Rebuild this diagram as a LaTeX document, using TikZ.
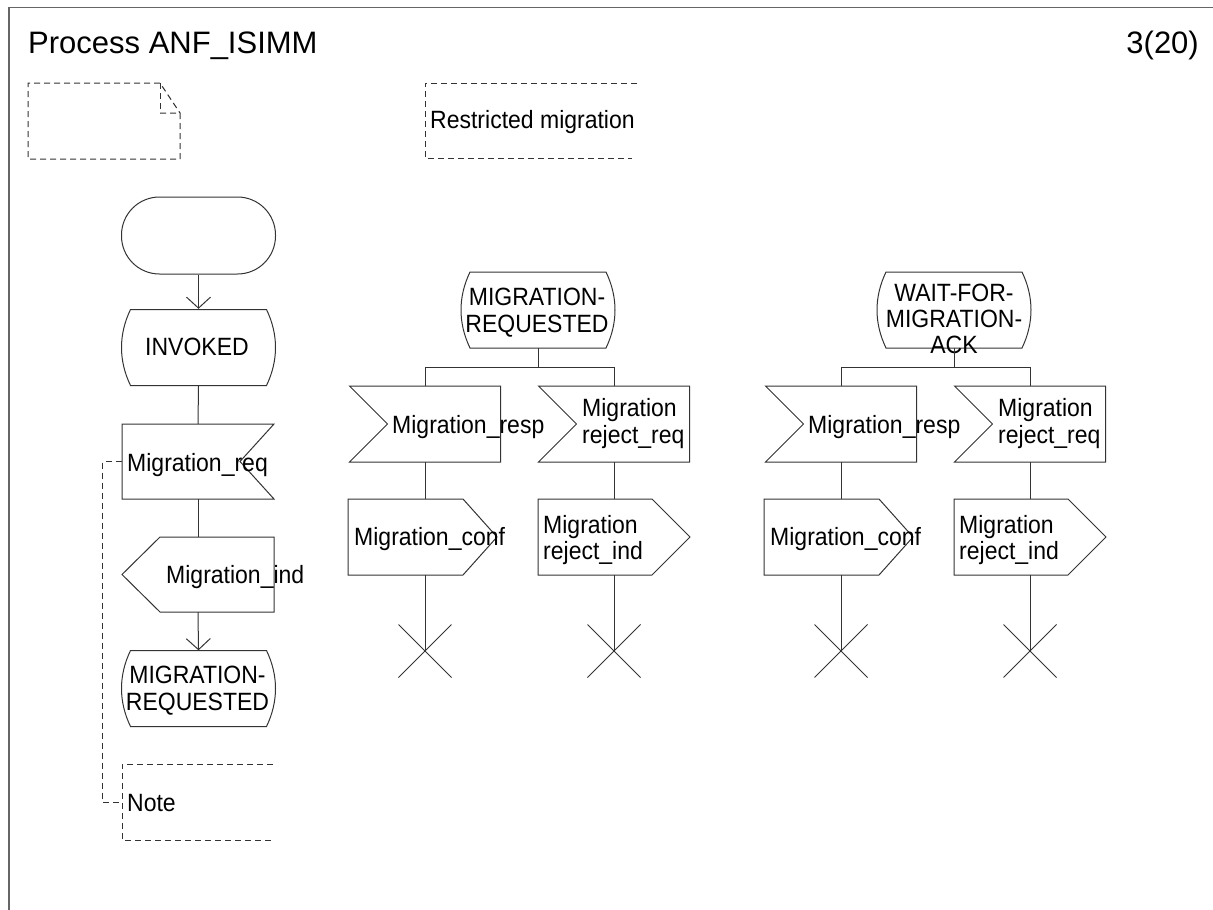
\documentclass[tikz,border=0pt]{standalone}
\usepackage{fontspec}
\setmainfont{Liberation Sans}
\newfontfamily\sdlfont{Liberation Sans}[FakeStretch=0.92]
\usetikzlibrary{shapes.misc,arrows.meta}
\tikzset{
  lin/.style={draw=black!80, line width=1pt},
  dsh/.style={draw=black!80, line width=1pt, dash pattern=on 6pt off 4pt},
  arr/.style={-{Straight Barb[length=11pt,width=24pt]}},
  bx/.style={draw=none, inner sep=0pt},
  txt/.style={inner sep=0pt, font=\sdlfont\fontsize{25}{26}\selectfont, text=black},
  big/.style={inner sep=0pt, font=\fontsize{31}{34}\selectfont, text=black},
  xterm/.style={lin, cross out, minimum size=52pt, inner sep=0pt}
}
\newcommand\sdlstateshape[2]{%
  \draw[lin,shift={(#1,#2)}] (-68,-38) -- (68,-38) .. controls (80,-13) and (80,13) .. (68,38)
    -- (-68,38) .. controls (-80,13) and (-80,-13) .. cycle;}
\begin{document}
\begin{tikzpicture}[x=1pt,y=-1pt]
\useasboundingbox (0,0) rectangle (1213,910);
% frame
\draw[black!60, line width=2pt] (9,910) -- (9,7.5);
\draw[black!60, line width=1.5pt] (8,7.5) -- (1213,7.5);
\node[big, anchor=base west] (title) at (28,53) {Process ANF\_ISIMM};
\node[big, anchor=base east] (page) at (1199,53) {3(20)};

% document symbol
\node (doc) [bx, minimum width=152pt, minimum height=76pt] at (104,121) {};
\draw[dsh] (160,113) -- (180,113) -- (180,159) -- (28,159) -- (28,83) -- (160,83) -- (180,113);
\draw[dsh] (160,83) -- (160,113);

% text annotation
\node (ann) [bx, minimum width=212pt, minimum height=75pt] at (531,120.5) {};
\draw[dsh] (637,83) -- (425,83) -- (425,158) -- (632,158);
\node[txt, anchor=base west] (anntext) at (430,128) {Restricted migration};

% ---------- left column ----------
\node (start) [lin, rounded corners=38pt, minimum width=154pt, minimum height=77pt, inner sep=0pt] at (198.5,235.5) {};

\node (inv) [bx, minimum width=154pt, minimum height=77pt] at (198.5,347.5) {};
\sdlstateshape{198.5}{347.5}
\node[txt, anchor=base] (invtext) at (197,355) {INVOKED};
\draw[lin, arr] (start.south) -- (inv.north);

\node (req) [bx, minimum width=152pt, minimum height=75pt] at (198,461.5) {};
\draw[lin] (274,424) -- (122,424) -- (122,499) -- (274,499) -- (240,461.5) -- cycle;
\node[txt, anchor=base west] (reqtext) at (127,471) {Migration\_req};
\draw[lin] (inv.south) -- (req.north);

\node (ind) [bx, minimum width=152pt, minimum height=75pt] at (198,574.5) {};
\draw[lin] (160,537) -- (274,537) -- (274,612) -- (160,612) -- (122,574.5) -- cycle;
\node[txt, anchor=base west] (indtext) at (166,583) {Migration\_ind};
\draw[lin] (req.south) -- (ind.north);

\node (mr) [bx, minimum width=154pt, minimum height=76pt] at (198.5,688.5) {};
\sdlstateshape{198.5}{688.5}
\node[txt, anchor=base] (mrtexta) at (197.5,683.5) {MIGRATION-};
\node[txt, anchor=base] (mrtextb) at (197.5,710.5) {REQUESTED};
\draw[lin, arr] (ind.south) -- (mr.north);

\node (note) [bx, minimum width=151pt, minimum height=76pt] at (197.5,802) {};
\draw[dsh] (273,764) -- (122,764) -- (122,840) -- (273,840);
\node[txt, anchor=base west] (notetext) at (127,811) {Note};
\draw[dsh] (req.west) -- ++(-19,0) |- (note.west);

% ---------- middle column ----------
\node (ms) [bx, minimum width=154pt, minimum height=76pt] at (538,310) {};
\sdlstateshape{538}{310}
\node[txt, anchor=base] (mstexta) at (537,305) {MIGRATION-};
\node[txt, anchor=base] (mstextb) at (537,332) {REQUESTED};

\node (i1) [bx, minimum width=151pt, minimum height=76pt] at (425,424) {};
\draw[lin] (349.5,386) -- (500.5,386) -- (500.5,462) -- (349.5,462) -- (387.5,424) -- cycle;
\node[txt, anchor=base west] (i1text) at (392,433) {Migration\_resp};

\node (i2) [bx, minimum width=151pt, minimum height=76pt] at (614,424) {};
\draw[lin] (538.5,386) -- (689.5,386) -- (689.5,462) -- (538.5,462) -- (576.5,424) -- cycle;
\node[txt, anchor=base west] (i2texta) at (582,416.5) {Migration};
\node[txt, anchor=base west] (i2textb) at (582,443.5) {reject\_req};

\draw[lin] (ms.south) -- ++(0,19) -| (i1.north);
\draw[lin] (ms.south) -- ++(0,19) -| (i2.north);

\node (o1) [bx, minimum width=154pt, minimum height=76pt] at (425,537) {};
\draw[lin] (348,499) -- (463,499) -- (497,537) -- (463,575) -- (348,575) -- cycle;
\node[txt, anchor=base west] (o1text) at (354,545) {Migration\_conf};

\node (o2) [bx, minimum width=152pt, minimum height=76pt] at (614,537) {};
\draw[lin] (538,499) -- (652,499) -- (690,537) -- (652,575) -- (538,575) -- cycle;
\node[txt, anchor=base west] (o2texta) at (543,533) {Migration};
\node[txt, anchor=base west] (o2textb) at (543,559) {reject\_ind};

\draw[lin] (i1.south) -- (o1.north);
\draw[lin] (i2.south) -- (o2.north);

\node (x1) [xterm] at (425,651) {};
\node (x2) [xterm] at (614,651) {};
\draw[lin] (o1.south) -- (x1.center);
\draw[lin] (o2.south) -- (x2.center);

% ---------- right column ----------
\node (ws) [bx, minimum width=154pt, minimum height=76pt] at (954,310) {};
\sdlstateshape{954}{310}
\node[txt, anchor=base] (wstexta) at (954,301) {WAIT-FOR-};
\node[txt, anchor=base] (wstextb) at (954,327) {MIGRATION-};
\node[txt, anchor=base] (wstextc) at (954,353) {ACK};

\node (i3) [bx, minimum width=151pt, minimum height=76pt] at (841,424) {};
\draw[lin] (765.5,386) -- (916.5,386) -- (916.5,462) -- (765.5,462) -- (803.5,424) -- cycle;
\node[txt, anchor=base west] (i3text) at (808,433) {Migration\_resp};

\node (i4) [bx, minimum width=151pt, minimum height=76pt] at (1030,424) {};
\draw[lin] (954.5,386) -- (1105.5,386) -- (1105.5,462) -- (954.5,462) -- (992.5,424) -- cycle;
\node[txt, anchor=base west] (i4texta) at (998,416.5) {Migration};
\node[txt, anchor=base west] (i4textb) at (998,443.5) {reject\_req};

\draw[lin] (ws.south) -- ++(0,19) -| (i3.north);
\draw[lin] (ws.south) -- ++(0,19) -| (i4.north);

\node (o3) [bx, minimum width=154pt, minimum height=76pt] at (841,537) {};
\draw[lin] (764,499) -- (879,499) -- (913,537) -- (879,575) -- (764,575) -- cycle;
\node[txt, anchor=base west] (o3text) at (770,545) {Migration\_conf};

\node (o4) [bx, minimum width=152pt, minimum height=76pt] at (1030,537) {};
\draw[lin] (954,499) -- (1068,499) -- (1106,537) -- (1068,575) -- (954,575) -- cycle;
\node[txt, anchor=base west] (o4texta) at (959,533) {Migration};
\node[txt, anchor=base west] (o4textb) at (959,559) {reject\_ind};

\draw[lin] (i3.south) -- (o3.north);
\draw[lin] (i4.south) -- (o4.north);

\node (x3) [xterm] at (841,651) {};
\node (x4) [xterm] at (1030,651) {};
\draw[lin] (o3.south) -- (x3.center);
\draw[lin] (o4.south) -- (x4.center);
\end{tikzpicture}
\end{document}
